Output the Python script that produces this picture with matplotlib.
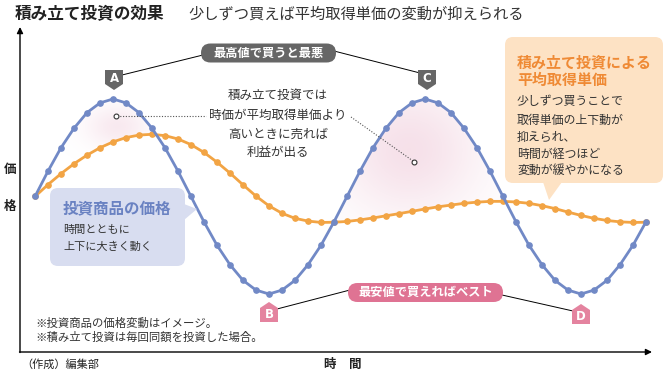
import numpy as np
import matplotlib.pyplot as plt
from matplotlib.patches import FancyBboxPatch, Polygon, PathPatch

plt.rcParams['font.family'] = ['Noto Sans CJK JP', 'DejaVu Sans']

# ── DATA ──────────────────────────────────────────────────────────────────────
# one point per monthly purchase; price of the product (image) and the
# running average acquisition cost when buying the same amount each time
steps = list(range(48))
price = [100, 113, 125, 135, 143, 148, 150, 148, 143, 135, 125, 113,
         100, 87, 75, 65, 57, 52, 50, 52, 57, 65, 75, 87,
         100, 113, 125, 135, 143, 148, 150, 148, 143, 135, 125, 113,
         100, 87, 75, 65, 57, 52, 50, 52, 57, 65, 75, 87]
avg_cost = [100.0, 106.1, 111.7, 116.8, 121.2, 125.0, 128.0, 130.2, 131.5, 131.9, 131.2, 129.5,
            126.6, 122.6, 117.6, 112.0, 106.0, 100.2, 95.2, 91.4, 88.8, 87.4, 86.7, 86.8,
            87.2, 88.0, 89.0, 90.1, 91.2, 92.4, 93.6, 94.7, 95.6, 96.5, 97.1, 97.5,
            97.5, 97.2, 96.5, 95.3, 93.8, 92.0, 90.3, 88.8, 87.7, 87.0, 86.7, 86.8]

title = "積み立て投資の効果"
subtitle = "少しずつ買えば平均取得単価の変動が抑えられる"
mid_text = ["積み立て投資では", "時価が平均取得単価より", "高いときに売れば", "利益が出る"]
blue_title = "投資商品の価格"
blue_body = ["時間とともに", "上下に大きく動く"]
orange_title = ["積み立て投資による", "平均取得単価"]
orange_body = ["少しずつ買うことで", "取得単価の上下動が", "抑えられ、", "時間が経つほど", "変動が緩やかになる"]
notes = ["※投資商品の価格変動はイメージ。", "※積み立て投資は毎回同額を投資した場合。"]

BLUE = "#7189c6"
ORANGE = "#f2a444"
DARK = "#666666"
PINK = "#df7393"
PINK_LBL = "#e4839f"
TXT = "#333333"

W, H = 665, 373
fig = plt.figure(figsize=(W / 100, H / 100), dpi=100)

# main axes: data coordinates (step, price)
ax = fig.add_axes([0, 0, 1, 1])
ax.set_xlim(-35 / 13, 630 / 13)
ax.set_ylim(100 - 176.5 / 1.95, 100 + 196.5 / 1.95)
ax.axis("off")

# overlay axes in pixel units for the annotations
ov = fig.add_axes([0, 0, 1, 1])
ov.set_xlim(0, W)
ov.set_ylim(H, 0)
ov.axis("off")
ov.patch.set_alpha(0)

x = np.array(steps)
p = np.array(price)
a = np.array(avg_cost)

# pink glow where price is above the average cost
x0, x1 = ax.get_xlim()
y0, y1 = ax.get_ylim()
gx, gy = np.meshgrid(np.linspace(x0, x1, 400), np.linspace(y0, y1, 300))
for sel, cx, cy, sx, sy, amax in [(x < 20, 6.3, 136, 2.4, 11, 0.3),
                                   (x >= 20, 28.8, 124, 5.5, 34, 0.42)]:
    coll = ax.fill_between(x, p, a, where=(p > a) & sel, interpolate=True,
                           facecolor="none", edgecolor="none")
    clip = PathPatch(coll.get_paths()[0], transform=ax.transData,
                     facecolor="none", edgecolor="none")
    ax.add_patch(clip)
    img = np.zeros(gx.shape + (4,))
    img[..., 0], img[..., 1], img[..., 2] = 0.92, 0.72, 0.80
    img[..., 3] = amax * np.exp(-((gx - cx) / sx) ** 2 - ((gy - cy) / sy) ** 2)
    im = ax.imshow(img, extent=(x0, x1, y0, y1), origin="lower", aspect="auto", zorder=1)
    im.set_clip_path(clip)
ax.set_xlim(x0, x1)
ax.set_ylim(y0, y1)

ax.plot(x, a, color=ORANGE, lw=2, marker="o", ms=3.8, zorder=3)
ax.plot(x, p, color=BLUE, lw=2, marker="o", ms=3.8, zorder=4)

# axes arrows
arr = dict(arrowstyle="-|>", lw=1, color="black", mutation_scale=9, shrinkA=0, shrinkB=0)
ov.annotate("", xy=(20, 27), xytext=(20, 352.5), arrowprops=arr)
ov.annotate("", xy=(652, 352), xytext=(19.5, 352), arrowprops=arr)

# titles
ov.text(15, 14, title, fontsize=12, fontweight="bold", color="#222222", va="center")
ov.text(188, 14, subtitle, fontsize=11, color=TXT, va="center")

# axis labels and source
ov.text(10, 170, "価", fontsize=9, fontweight="bold", ha="center", va="center", color="#222222")
ov.text(10, 206, "格", fontsize=9, fontweight="bold", ha="center", va="center", color="#222222")
ov.text(343, 364, "時　間", fontsize=9, fontweight="bold", ha="center", va="center", color="#222222")
ov.text(21, 364, "（作成）編集部", fontsize=8, va="center", color="#222222")

# leader lines
for (xa, ya), (xb, yb) in [((203, 55), (122, 75)), ((334, 51), (420, 73)),
                           ((350, 290), (277, 309)), ((502, 295), (573, 311))]:
    ov.plot([xa, xb], [ya, yb], color="black", lw=0.7, zorder=5)

# pills
def pill(x_l, x_r, y_c, h, color, label):
    ov.add_patch(FancyBboxPatch((x_l, y_c - h / 2), x_r - x_l, h,
                                boxstyle="round,pad=0,rounding_size=%s" % (h / 2),
                                fc=color, ec="none", zorder=6))
    ov.text((x_l + x_r) / 2, y_c, label, color="white", fontsize=8.8,
            fontweight="bold", ha="center", va="center", zorder=7)

pill(201, 336, 53, 19, DARK, "最高値で買うと最悪")
pill(348, 503, 292.5, 19, PINK, "最安値で買えればベスト")

# point labels
def tag(cx, cy, label, color, down=True):
    if down:
        pts = [(cx - 9, cy - 10), (cx + 9, cy - 10), (cx + 9, cy + 4), (cx, cy + 10), (cx - 9, cy + 4)]
        ty = cy - 2
    else:
        pts = [(cx - 9, cy + 10), (cx + 9, cy + 10), (cx + 9, cy - 4), (cx, cy - 10), (cx - 9, cy - 4)]
        ty = cy + 2
    ov.add_patch(Polygon(pts, closed=True, fc=color, ec="none", zorder=6))
    ov.text(cx, ty, label, color="white", fontsize=8.5, fontweight="bold",
            ha="center", va="center", zorder=7, family="DejaVu Sans")

tag(114, 80, "A", DARK)
tag(427, 80, "C", DARK)
tag(269, 312, "B", PINK_LBL, down=False)
tag(581, 314, "D", PINK_LBL, down=False)

# middle explanation with dotted pointers
for yy, line in zip([95, 115, 134, 152], mid_text):
    ov.text(278, yy, line, fontsize=9, color=TXT, ha="center", va="center", zorder=7)
ov.plot([117, 206], [116, 116], color="#555555", lw=0.8, ls=(0, (1, 1.5)), zorder=5)
ov.plot([351, 413], [117, 161], color="#555555", lw=0.8, ls=(0, (1, 1.5)), zorder=5)
ov.plot([116, 414], [116, 162], ls="none", marker="o", ms=3.5, mfc="white",
        mec="#333333", mew=0.8, zorder=6)

# blue callout
ov.add_patch(FancyBboxPatch((50, 188), 135, 78, boxstyle="round,pad=0,rounding_size=8",
                            fc="#d8ddf0", ec="none", zorder=6))
ov.add_patch(Polygon([(184, 204), (184, 220), (197, 209)], closed=True,
                     fc="#d8ddf0", ec="none", zorder=6))
ov.text(63, 209, blue_title, fontsize=11.2, fontweight="bold", color="#6a82c2", va="center", zorder=7)
for yy, line in zip([230, 247], blue_body):
    ov.text(63, yy, line, fontsize=8, color=TXT, va="center", zorder=7)

# orange callout
ov.add_patch(FancyBboxPatch((505, 37), 158, 146, boxstyle="round,pad=0,rounding_size=8",
                            fc="#fde2c4", ec="none", zorder=6))
ov.add_patch(Polygon([(543, 182), (562, 182), (549, 200)], closed=True,
                     fc="#fde2c4", ec="none", zorder=6))
for yy, line in zip([62, 80], orange_title):
    ov.text(517, yy, line, fontsize=10.8, fontweight="bold", color="#ef8a35", va="center", zorder=7)
for yy, line in zip([102, 120, 137, 154, 170], orange_body):
    ov.text(517, yy, line, fontsize=8.6, color=TXT, va="center", zorder=7)

# notes
for yy, line in zip([323, 337], notes):
    ov.text(35, yy, line, fontsize=8.2, color=TXT, va="center", zorder=7)

fig.savefig("out.png", dpi=100)
